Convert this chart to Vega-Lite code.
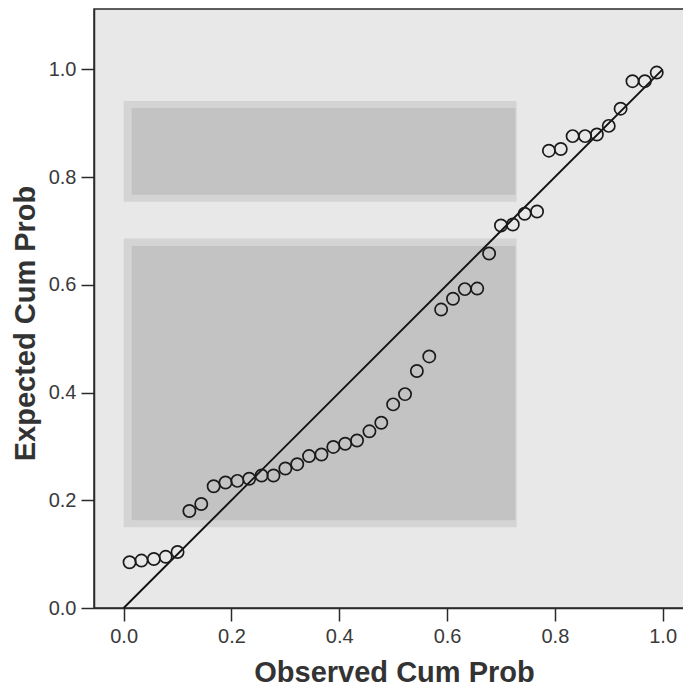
{
  "$schema": "https://vega.github.io/schema/vega-lite/v6.json",
  "autosize": "none",
  "width": 590,
  "height": 599,
  "padding": {"left": 94, "top": 9, "right": 0, "bottom": 81},
  "background": "#ffffff",
  "config": {
    "view": {"fill": "#e8e8e8", "stroke": "#2a2a2a", "strokeWidth": 1.5},
    "axis": {
      "grid": false,
      "domainColor": "#2a2a2a",
      "domainWidth": 1.5,
      "tickColor": "#2a2a2a",
      "tickWidth": 1.5,
      "tickSize": 13,
      "labelFont": "Liberation Sans",
      "labelFontSize": 20,
      "labelColor": "#3a3a3a",
      "labelPadding": 5,
      "titleFont": "Liberation Sans",
      "titleFontSize": 29,
      "titleFontWeight": "bold",
      "titleColor": "#333333"
    }
  },
  "datasets": {
    "pts": [
      {"obs": 0.011, "exp": 0.085},
      {"obs": 0.033, "exp": 0.088},
      {"obs": 0.056, "exp": 0.091},
      {"obs": 0.078, "exp": 0.095},
      {"obs": 0.100, "exp": 0.104},
      {"obs": 0.122, "exp": 0.180},
      {"obs": 0.144, "exp": 0.193},
      {"obs": 0.167, "exp": 0.226},
      {"obs": 0.189, "exp": 0.233},
      {"obs": 0.211, "exp": 0.236},
      {"obs": 0.233, "exp": 0.240},
      {"obs": 0.256, "exp": 0.246},
      {"obs": 0.278, "exp": 0.246},
      {"obs": 0.300, "exp": 0.259},
      {"obs": 0.322, "exp": 0.267},
      {"obs": 0.344, "exp": 0.282},
      {"obs": 0.367, "exp": 0.285},
      {"obs": 0.389, "exp": 0.299},
      {"obs": 0.411, "exp": 0.305},
      {"obs": 0.433, "exp": 0.311},
      {"obs": 0.456, "exp": 0.328},
      {"obs": 0.478, "exp": 0.344},
      {"obs": 0.500, "exp": 0.378},
      {"obs": 0.522, "exp": 0.397},
      {"obs": 0.544, "exp": 0.440},
      {"obs": 0.567, "exp": 0.467},
      {"obs": 0.589, "exp": 0.554},
      {"obs": 0.611, "exp": 0.574},
      {"obs": 0.633, "exp": 0.592},
      {"obs": 0.656, "exp": 0.593},
      {"obs": 0.678, "exp": 0.658},
      {"obs": 0.700, "exp": 0.710},
      {"obs": 0.722, "exp": 0.712},
      {"obs": 0.744, "exp": 0.732},
      {"obs": 0.767, "exp": 0.736},
      {"obs": 0.789, "exp": 0.849},
      {"obs": 0.811, "exp": 0.852},
      {"obs": 0.833, "exp": 0.876},
      {"obs": 0.856, "exp": 0.876},
      {"obs": 0.878, "exp": 0.879},
      {"obs": 0.900, "exp": 0.895},
      {"obs": 0.922, "exp": 0.927},
      {"obs": 0.944, "exp": 0.978},
      {"obs": 0.967, "exp": 0.978},
      {"obs": 0.989, "exp": 0.994}
    ],
    "diag": [
      {"obs": 0, "exp": 0},
      {"obs": 1, "exp": 1}
    ],
    "outer": [
      {"x0": 0.0, "x1": 0.729, "y0": 0.754, "y1": 0.941},
      {"x0": 0.0, "x1": 0.729, "y0": 0.150, "y1": 0.686}
    ],
    "inner": [
      {"x0": 0.015, "x1": 0.727, "y0": 0.767, "y1": 0.928},
      {"x0": 0.015, "x1": 0.727, "y0": 0.163, "y1": 0.672}
    ]
  },
  "layer": [
    {
      "data": {"name": "outer"},
      "mark": {"type": "rect", "color": "#d4d4d4"},
      "encoding": {
        "x": {"field": "x0", "type": "quantitative", "scale": {"domain": [-0.055, 1.0396], "nice": false, "zero": false}, "axis": {"values": [0, 0.2, 0.4, 0.6, 0.8, 1.0], "format": ".1f", "title": "Observed Cum Prob", "titlePadding": 12, "titleX": 300}},
        "x2": {"field": "x1"},
        "y": {"field": "y0", "type": "quantitative", "scale": {"domain": [0, 1.112], "nice": false, "zero": false}, "axis": {"values": [0, 0.2, 0.4, 0.6, 0.8, 1.0], "format": ".1f", "title": "Expected Cum Prob", "titlePadding": 8, "titleY": 314}},
        "y2": {"field": "y1"}
      }
    },
    {
      "data": {"name": "inner"},
      "mark": {"type": "rect", "color": "#c3c3c3"},
      "encoding": {
        "x": {"field": "x0", "type": "quantitative"},
        "x2": {"field": "x1"},
        "y": {"field": "y0", "type": "quantitative"},
        "y2": {"field": "y1"}
      }
    },
    {
      "data": {"name": "diag"},
      "mark": {"type": "line", "color": "#111111", "strokeWidth": 1.9},
      "encoding": {
        "x": {"field": "obs", "type": "quantitative"},
        "y": {"field": "exp", "type": "quantitative"}
      }
    },
    {
      "data": {"name": "pts"},
      "mark": {"type": "point", "shape": "circle", "filled": false, "stroke": "#1a1a1a", "strokeWidth": 1.7, "size": 150, "opacity": 1},
      "encoding": {
        "x": {"field": "obs", "type": "quantitative"},
        "y": {"field": "exp", "type": "quantitative"}
      }
    }
  ]
}
